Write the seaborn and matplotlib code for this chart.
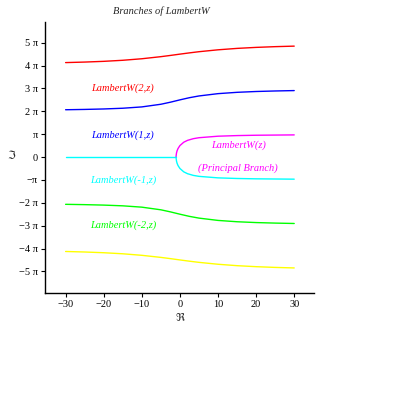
import numpy as np
import pandas as pd
import matplotlib
matplotlib.use("Agg")
import matplotlib.pyplot as plt
import seaborn as sns

# ------------------------------------------------------------
# Data (y values in multiples of pi)
# ------------------------------------------------------------
x_branch = [-30, -25, -20, -15, -10, -5, -2.5, 0, 2.5, 5, 10, 15, 20, 25, 30]
k2_y = [4.13, 4.153, 4.185, 4.231, 4.298, 4.389, 4.443, 4.5, 4.555, 4.606, 4.689, 4.751, 4.795, 4.827, 4.85]
k1_y = [2.068, 2.082, 2.102, 2.134, 2.192, 2.308, 2.398, 2.5, 2.595, 2.671, 2.772, 2.830, 2.866, 2.889, 2.906]
km1_y = [-v for v in k1_y]
km2_y = [-v for v in k2_y]

x_real = [-30, -1]
y_real = [0, 0]
x_principal = [-1, -0.99, -0.9, -0.75, -0.5, 0, 1, 2, 3.5, 5, 10, 15, 20, 30]
y_principal = [0, 0.055, 0.174, 0.269, 0.371, 0.5, 0.647, 0.729, 0.802, 0.845, 0.911, 0.938, 0.953, 0.968]

y_ticks = [-5, -4, -3, -2, -1, 0, 1, 2, 3, 4, 5]
y_ticklabels = ["\u22125 \u03c0", "\u22124 \u03c0", "\u22123 \u03c0", "\u22122 \u03c0", "\u2212\u03c0", "0",
                "\u03c0", "2 \u03c0", "3 \u03c0", "4 \u03c0", "5 \u03c0"]
x_ticks = [-30, -20, -10, 0, 10, 20, 30]

# ------------------------------------------------------------
# Plot
# ------------------------------------------------------------
sns.set_style("white")
plt.rcParams["font.family"] = ["Liberation Serif", "DejaVu Serif", "DejaVu Sans"]

fig = plt.figure(figsize=(3.95, 3.95), dpi=100)
ax = fig.add_axes([0.114, 0.258, 0.681, 0.686])

lw = 1.0
sns.lineplot(x=x_branch, y=k2_y, color="#ff0000", lw=lw, ax=ax)
sns.lineplot(x=x_branch, y=k1_y, color="#0000ff", lw=lw, ax=ax)
sns.lineplot(x=x_branch, y=km1_y, color="#00ff00", lw=lw, ax=ax)
sns.lineplot(x=x_branch, y=km2_y, color="#ffff00", lw=lw, ax=ax)
sns.lineplot(x=x_real, y=y_real, color="#00ffff", lw=lw, ax=ax)
sns.lineplot(x=x_principal, y=y_principal, color="#ff00ff", lw=lw, ax=ax)
sns.lineplot(x=x_principal, y=[-v for v in y_principal], color="#00ffff", lw=lw, ax=ax)

ax.set_xlim(-35.4, 35.2)
ax.set_ylim(-5.95, 5.9)
ax.set_xticks(x_ticks)
ax.set_yticks(y_ticks)
ax.set_yticklabels(y_ticklabels)
sns.despine(ax=ax)
for s in ["left", "bottom"]:
    ax.spines[s].set_color("black")
    ax.spines[s].set_linewidth(1.0)
ax.tick_params(direction="out", length=3, width=0.8, pad=2, labelsize=7.5,
               left=True, bottom=True, colors="black")

sym_font = ["DejaVu Sans", "Noto Sans"]
ax.set_xlabel("\u211c", fontsize=8, family=sym_font)
ax.set_ylabel("\u2111", fontsize=8, rotation=0, va="center", family=sym_font)
ax.xaxis.set_label_coords(0.5, -0.075)
ax.yaxis.set_label_coords(-0.125, 0.5 + 0.05 / 11.85)

# branch labels
lab = dict(fontsize=7.5, style="italic", ha="center", va="center")
ax.text(-15, 3.0, "LambertW(2,z)", color="#ff0000", **lab)
ax.text(-15, 0.97, "LambertW(1,z)", color="#0000ff", **lab)
ax.text(-15, -1.0, "LambertW(-1,z)", color="#00ffff", **lab)
ax.text(-15, -3.0, "LambertW(-2,z)", color="#00ff00", **lab)
ax.text(15.4, 0.5, "LambertW(z)", color="#ff00ff", **lab)
ax.text(15.1, -0.47, "(Principal Branch)", color="#ff00ff", **lab)

fig.text(0.409, 0.972, "Branches of LambertW", fontsize=7.5, style="italic",
         ha="center", va="center")

fig.savefig("out.png", dpi=100)
